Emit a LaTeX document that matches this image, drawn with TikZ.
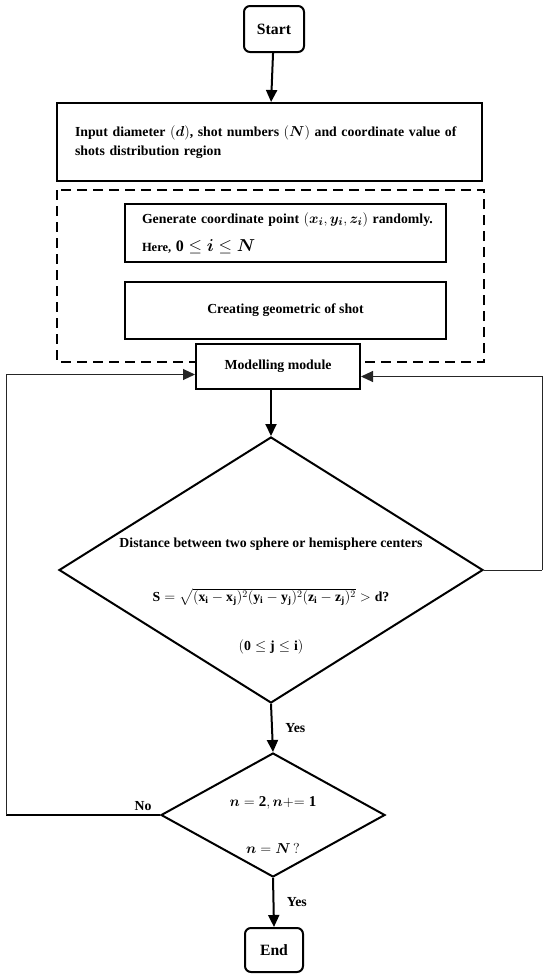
\documentclass[tikz,border=0pt]{standalone}
\usepackage{amsmath,amssymb}
\usepackage{fontspec}
\setmainfont{Liberation Serif}
\usetikzlibrary{arrows.meta,shapes.geometric}
\DeclareMathAlphabet{\mathbi}{OML}{cmm}{b}{it}
\newcommand{\distformula}{$\mathbf{S}=\sqrt{(\mathbf{x}_\mathbf{i}-\mathbf{x}_\mathbf{j})^2(\mathbf{y}_\mathbf{i}-\mathbf{y}_\mathbf{j})^2(\mathbf{z}_\mathbf{i}-\mathbf{z}_\mathbf{j})^2}>\mathbf{d}$?}
\newcommand{\distrange}{$(\mathbf{0}\le\mathbf{j}\le\mathbf{i})$}

\begin{document}
\begin{tikzpicture}[x=1pt,y=-1pt,>={Triangle[length=12pt,width=11pt]},
  font=\fontsize{13.8}{19}\selectfont\bfseries,
  box/.style={draw,line width=2pt,fill=white,inner sep=0pt},
  term/.style={box,rounded corners=6pt,font=\fontsize{15.7}{19}\selectfont\bfseries},
  decision/.style={draw,diamond,line width=2pt,inner sep=0pt},
  flow/.style={->,line width=2pt},
  loopline/.style={line width=1pt,black!85}]
\useasboundingbox (0,0) rectangle (550,980);
% start and input
\node[term,minimum width=60pt,minimum height=46pt] (start) at (274,29) {Start};
\node[box,minimum height=78pt,text width=389pt,inner xsep=18pt,align=left] (input) at (269.5,142)
  {Input diameter $(\mathbi{d})$, shot numbers $(\mathbi{N})$ and coordinate value of\\ shots distribution region};
% modelling group
\draw[line width=2pt,dash pattern=on 10pt off 6pt] (57,190) rectangle (484,362);
\node[box,minimum height=58pt,text width=287pt,inner xsep=17pt,align=left] (gen) at (285.5,233)
  {\mbox{Generate coordinate point {\fontsize{15.5}{17}\selectfont$(\mathbi{x_i},\mathbi{y_i},\mathbi{z_i})$} randomly.}\\[9pt]
   {\fontsize{12.5}{13}\selectfont Here,} {\fontsize{16}{17}\selectfont$\mathbf{0}\le\mathbi{i}\le\mathbi{N}$}};
\node[box,minimum width=321pt,minimum height=57pt] (geo) at (285.5,310.5) {Creating geometric of shot};
\node[box,minimum width=164pt,minimum height=45pt] (model) at (278,366.5) {Modelling module};
% distance check
\node[decision,minimum width=424pt,minimum height=266pt] (dist) at (271,570) {};
\node (distA) at (271,544) {Distance between two sphere or hemisphere centers};
\node (distB) at (271,597) {\distformula};
\node (distC) at (271,647) {\distrange};
% counter check
\node[decision,minimum width=224pt,minimum height=124pt] (fin) at (273,815) {};
\node[font=\fontsize{15}{16}\selectfont] (finA) at (273,803) {$\mathbi{n}=\mathbf{2},\mathbi{n}{+}{=}\;\mathbf{1}$};
\node[font=\fontsize{15}{16}\selectfont] (finB) at (273,848) {$\mathbi{n}=\mathbi{N}\,?$};
\node[term,minimum width=58pt,minimum height=44pt] (end) at (274,950) {End};
% connectors
\coordinate (noturn) at (6,815);
\coordinate (backturn) at (542,570);
\draw[flow] (start) -- (input);
\draw[flow] (model.south -| dist.north) -- (dist.north);
\draw[flow] (dist.south) -- node[right=9pt]{Yes} (fin.north);
\draw[flow] (fin.south) -- node[right=9pt]{Yes} (end.north);
\draw[line width=2pt] (fin.west) -- node[pos=0.11,above]{No} (noturn);
\draw[loopline,->] (noturn) |- ([yshift=-8pt]model.west);
\draw[loopline] (dist.east) -- (backturn);
\draw[loopline,->] (backturn) |- ([yshift=-10pt]model.east);
\end{tikzpicture}
\end{document}
